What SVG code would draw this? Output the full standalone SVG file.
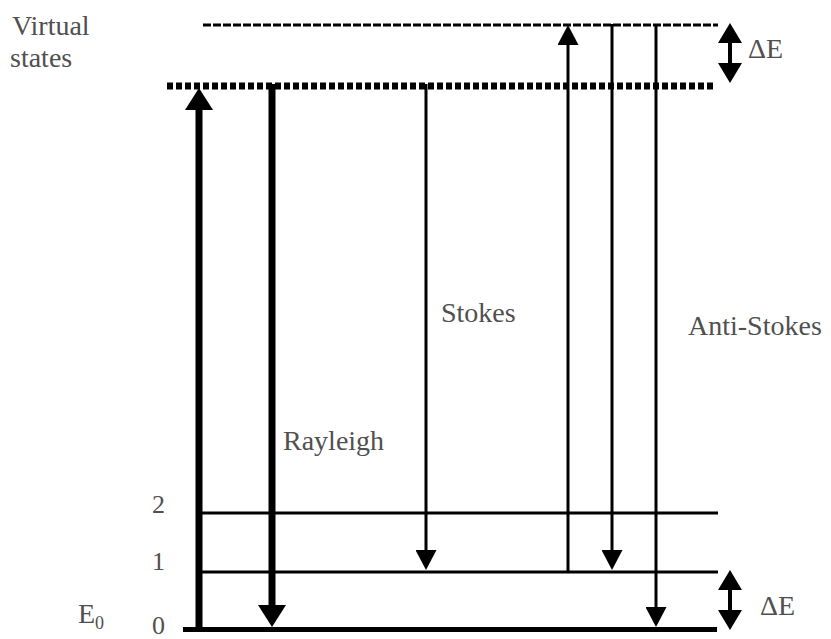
<svg xmlns="http://www.w3.org/2000/svg" width="831" height="639" viewBox="0 0 831 639">
<style>
  .lbl { font-family: "Liberation Serif", "Times New Roman", serif; font-size: 28px; fill: #505050; }
  .num { font-family: "Liberation Serif", "Times New Roman", serif; font-size: 26px; fill: #505050; }
  .lvl { stroke: #000; fill: none; }
  .arr { stroke: #000; fill: none; }
</style>
<defs>
  <marker id="hThin" markerUnits="userSpaceOnUse" viewBox="0 0 20 21" markerWidth="20" markerHeight="21" refX="8" refY="10.5" orient="auto">
    <path d="M0,0 L20,10.5 L0,21 z" fill="#000"/>
  </marker>
  <marker id="hThick" markerUnits="userSpaceOnUse" viewBox="0 0 22 28" markerWidth="22" markerHeight="28" refX="10" refY="14" orient="auto">
    <path d="M0,0 L22,14 L0,28 z" fill="#000"/>
  </marker>
  <marker id="hDE" markerUnits="userSpaceOnUse" viewBox="0 0 20 24" markerWidth="20" markerHeight="24" refX="8" refY="12" orient="auto-start-reverse">
    <path d="M0,0 L20,12 L0,24 z" fill="#000"/>
  </marker>
</defs>

<g id="virtual-states-label">
  <text class="lbl" x="12" y="35">Virtual</text>
  <text class="lbl" x="10" y="67">states</text>
</g>

<g id="level-virtual-upper">
  <line class="lvl" x1="203" y1="25" x2="718" y2="25" stroke-width="3" stroke-dasharray="8 2"/>
</g>
<g id="level-virtual-lower">
  <line class="lvl" x1="167" y1="86" x2="715" y2="86" stroke-width="7" stroke-dasharray="6 3"/>
</g>
<g id="level-2">
  <line class="lvl" x1="201" y1="513" x2="718" y2="513" stroke-width="3"/>
  <text class="num" x="152" y="513">2</text>
</g>
<g id="level-1">
  <line class="lvl" x1="201" y1="572" x2="718" y2="572" stroke-width="3"/>
  <text class="num" x="152" y="570">1</text>
</g>
<g id="level-0">
  <line class="lvl" x1="183" y1="629.5" x2="717" y2="629.5" stroke-width="5"/>
  <text class="num" x="152" y="634">0</text>
  <text class="lbl" x="78" y="623">E<tspan font-size="18" dy="6">0</tspan></text>
</g>

<g id="label-rayleigh"><text class="lbl" x="283" y="450">Rayleigh</text></g>
<g id="label-stokes"><text class="lbl" x="441" y="322">Stokes</text></g>
<g id="label-antistokes"><text class="lbl" x="688" y="335">Anti-Stokes</text></g>
<g id="label-de-top"><text class="lbl" x="748" y="58">ΔE</text></g>
<g id="label-de-bottom"><text class="lbl" x="760" y="615">ΔE</text></g>

<g id="connectors">
  <!-- Rayleigh -->
  <line class="arr" x1="199" y1="632" x2="199" y2="100" stroke-width="7" marker-end="url(#hThick)"/>
  <line class="arr" x1="272" y1="84" x2="272" y2="615" stroke-width="7" marker-end="url(#hThick)"/>
  <!-- Stokes -->
  <line class="arr" x1="426" y1="84" x2="426" y2="558" stroke-width="3" marker-end="url(#hThin)"/>
  <!-- Anti-Stokes -->
  <line class="arr" x1="568" y1="573" x2="568" y2="37" stroke-width="3" marker-end="url(#hThin)"/>
  <line class="arr" x1="612" y1="24" x2="612" y2="558" stroke-width="3" marker-end="url(#hThin)"/>
  <line class="arr" x1="656" y1="24" x2="656" y2="615" stroke-width="3" marker-end="url(#hThin)"/>
  <!-- Delta E -->
  <line class="arr" x1="730" y1="35" x2="730" y2="71" stroke-width="4" marker-start="url(#hDE)" marker-end="url(#hDE)"/>
  <line class="arr" x1="730" y1="582" x2="730" y2="618" stroke-width="4" marker-start="url(#hDE)" marker-end="url(#hDE)"/>
</g>
</svg>
